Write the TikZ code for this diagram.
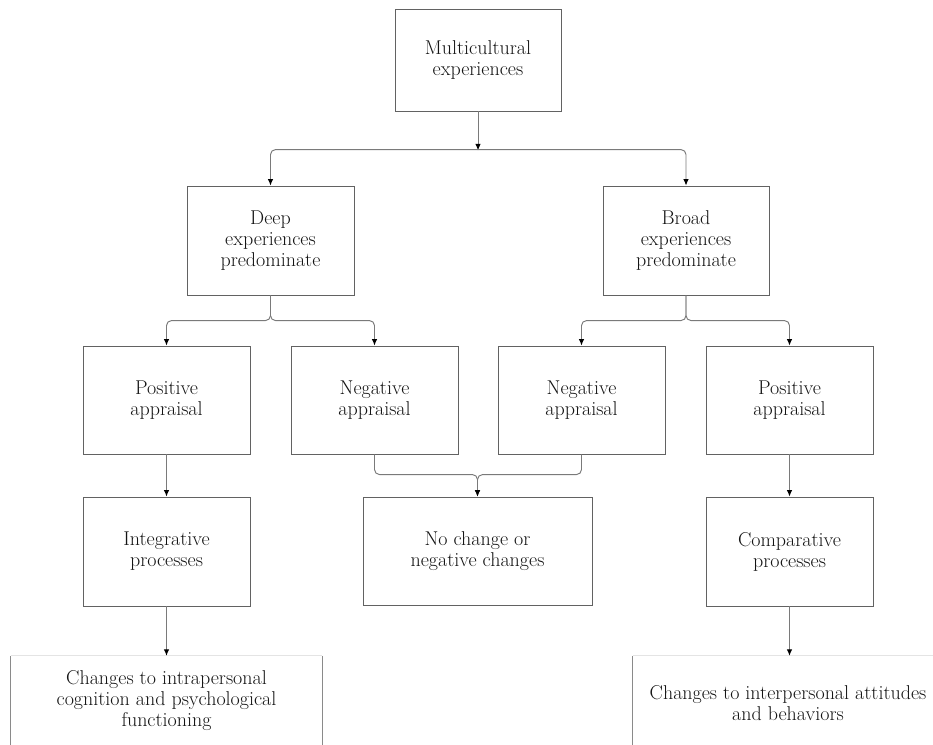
\documentclass[tikz,border=0pt]{standalone}
\usetikzlibrary{arrows.meta,calc}
\definecolor{edgegray}{HTML}{626262}
\definecolor{wiregray}{HTML}{7A7A7A}
\definecolor{ink}{HTML}{141414}
\definecolor{faintgray}{HTML}{E4E4E4}
\definecolor{sidegray}{HTML}{8A8A8A}
\begin{document}
\begin{tikzpicture}[x=1pt,y=-1pt,
  box/.style={draw=edgegray, line width=0.85pt, rectangle, minimum width=167pt,
    minimum height=108pt, inner sep=0pt, align=center, text=ink,
    font=\fontsize{20}{21}\selectfont},
  plain/.style={inner sep=0pt, align=center, text=ink,
    font=\fontsize{20}{21}\selectfont},
  conn/.style={draw=wiregray, line width=0.95pt, rounded corners=5pt,
    -{Latex[length=6.5pt,width=5.5pt,color=black]}},
  biconn/.style={draw=wiregray, line width=0.95pt, rounded corners=5pt,
    {Latex[length=6.5pt,width=5.5pt,color=black]}-{Latex[length=6.5pt,width=5.5pt,color=black]}}
]
\useasboundingbox (0,0) rectangle (933,744);
\fill[white] (0,0) rectangle (933,744);
\clip (0,0) rectangle (933,744);

% boxes
\node[box, minimum width=166pt, minimum height=102pt] (top) at (478,60) {Multicultural\\experiences};
\node[box, minimum height=109pt] (deep)  at (270.5,240.5) {Deep\\experiences\\predominate};
\node[box, minimum width=166pt, minimum height=109pt] (broad) at (686,240.5) {Broad\\experiences\\predominate};
\node[box] (pa1) at (166.5,400) {Positive\\appraisal};
\node[box] (na1) at (374.5,400) {Negative\\appraisal};
\node[box] (na2) at (581.5,400) {Negative\\appraisal};
\node[box] (pa2) at (789.5,400) {Positive\\appraisal};
\node[box, minimum height=109pt] (integ) at (166.5,551.5) {Integrative\\processes};
\node[box, minimum width=229pt] (noch) at (477.5,551) {No change or\\negative changes};
\node[box, minimum height=109pt] (comp) at (789.5,551.5) {Comparative\\processes};

% outcome boxes running off the lower edge
\node[minimum width=311pt, minimum height=130pt, inner sep=0pt] (outl) at (166.5,721) {};
\node[minimum width=320pt, minimum height=130pt, inner sep=0pt] (outr) at (793,721) {};
\draw[faintgray, line width=1pt] (outl.north west) -- (outl.north east);
\draw[sidegray, line width=0.9pt] (outl.north west) -- (outl.south west);
\draw[sidegray, line width=0.9pt] (outl.north east) -- (outl.south east);
\draw[faintgray, line width=1pt] (outr.north west) -- (outr.north east);
\draw[sidegray, line width=0.9pt] (outr.north west) -- (outr.south west);
\node[plain] (outltext) at (166.5,701) {Changes to intrapersonal\\cognition and psychological\\functioning};
\node[plain] (outrtext) at (788,703) {Changes to interpersonal attitudes\\and behaviors};

% connectors
\coordinate (split0) at ($(top.south)+(0,39)$);
\draw[conn] (top.south) -- (split0);
\draw[biconn] (deep.north) |- ($(broad.north)+(0,-36)$) -- (broad.north);

\draw[conn] (deep.south) |- ($(pa1.north)+(0,-25)$) -- (pa1.north);
\draw[conn] (deep.south) |- ($(na1.north)+(0,-25)$) -- (na1.north);
\draw[conn] (broad.south) |- ($(na2.north)+(0,-25)$) -- (na2.north);
\draw[conn] (broad.south) |- ($(pa2.north)+(0,-25)$) -- (pa2.north);

\draw[conn] (na1.south) |- ($(noch.north)+(0,-22)$) -- (noch.north);
\draw[conn] (na2.south) |- ($(noch.north)+(0,-22)$) -- (noch.north);

\draw[conn] (pa1.south) -- (integ.north);
\draw[conn] (pa2.south) -- (comp.north);
\draw[conn] (integ.south) -- (outl.north);
\draw[conn] (comp.south) -- (comp.south |- outr.north);
\end{tikzpicture}
\end{document}
